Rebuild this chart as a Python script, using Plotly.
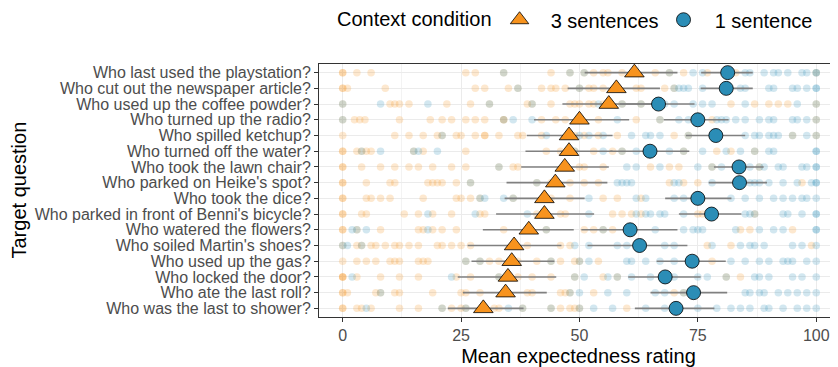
import plotly.graph_objects as go

questions = [
    "Who last used the playstation?",
    "Who cut out the newspaper article?",
    "Who used up the coffee powder?",
    "Who turned up the radio?",
    "Who spilled ketchup?",
    "Who turned off the water?",
    "Who took the lawn chair?",
    "Who parked on Heike's spot?",
    "Who took the dice?",
    "Who parked in front of Benni's bicycle?",
    "Who watered the flowers?",
    "Who soiled Martin's shoes?",
    "Who used up the gas?",
    "Who locked the door?",
    "Who ate the last roll?",
    "Who was the last to shower?",
]

# condition means and interval bounds (3 sentences)
mean_3 = [61.6, 57.8, 56.2, 50.0, 47.8, 47.8, 46.9, 44.9, 42.6, 42.6, 39.3, 36.2, 35.7, 34.9, 34.4, 29.7]
lo_3 = [51.1, 47.5, 46.4, 40.4, 38.9, 38.6, 37.7, 34.6, 34.2, 32.4, 29.6, 26.4, 27.2, 24.3, 25.4, 22.2]
hi_3 = [70.7, 67.0, 66.0, 60.5, 57.0, 57.0, 56.2, 55.9, 51.1, 53.1, 48.8, 46.2, 44.7, 45.1, 43.1, 38.2]

# condition means and interval bounds (1 sentence)
mean_1 = [81.3, 81.0, 66.7, 75.0, 78.8, 64.9, 83.7, 83.8, 75.0, 77.9, 60.7, 62.7, 73.8, 68.1, 74.1, 70.4]
lo_1 = [75.7, 75.6, 58.5, 67.8, 72.5, 56.5, 78.4, 77.3, 68.1, 71.0, 50.4, 51.7, 66.3, 60.3, 65.0, 61.7]
hi_1 = [86.6, 86.6, 74.3, 81.5, 85.0, 73.2, 88.9, 89.6, 82.1, 84.2, 70.7, 72.8, 80.9, 75.6, 81.2, 78.5]

# individual ratings, 3 sentences
dots_3 = [
    [0, 0, 3, 6, 26, 28, 34, 44, 48, 51, 53, 55, 56, 59, 66, 69, 72, 77, 83, 100],
    [0, 0, 1, 9, 28, 30, 35, 37, 42, 44, 45, 47, 50, 52, 53, 55, 62, 63, 68, 70],
    [0, 10, 11, 12, 14, 22, 27, 31, 39, 40, 44, 48, 49, 50, 52, 53, 55, 59, 63, 82, 87, 90, 92, 94, 100],
    [0, 2.5, 3.6, 4.7, 12, 18.5, 21, 23, 26, 28, 30, 34, 34, 42, 45, 47, 50, 54, 62, 67, 78, 100],
    [0, 11, 14, 17, 20, 21, 24, 25, 28, 30, 30, 33, 37, 38, 42, 49, 51, 54, 58, 70, 73, 95, 100],
    [0, 0, 3, 4, 5, 6, 15, 17, 26, 43, 46, 49, 53, 57, 59, 72, 79, 82, 87],
    [0, 0, 4, 8, 11, 14, 16, 19, 23, 26, 33, 36, 37, 50, 51, 55, 65, 69, 71, 78, 88],
    [0, 0, 5, 10, 11, 18, 19, 20, 21, 24, 27, 41, 44, 48, 51, 54, 69, 72, 75, 97],
    [0, 0, 5, 6, 8, 10, 17, 24, 25, 27, 29, 36, 44, 48, 55, 58, 63, 75],
    [0, 0, 4, 5, 13, 16, 19, 23, 29, 30, 41, 46, 47, 57, 59, 61, 63, 75, 76, 87],
    [0, 0, 3, 8, 16, 17, 19, 21, 24, 34, 39, 43, 51, 53, 55, 57, 84, 86, 95],
    [0, 3, 4, 6, 7, 9, 11, 12, 14, 16, 20, 21, 23, 25, 27, 36, 39, 46, 48, 77, 82, 99],
    [0, 3, 5, 7, 10, 11, 12, 16, 17, 18, 26, 29, 31, 33, 37, 41, 44, 46, 49, 50, 54, 78],
    [0, 0, 0, 3, 8, 12, 16, 24, 27, 33, 37, 40, 44, 49, 55, 58, 81, 84],
    [0, 0, 1, 7, 8, 11, 12, 19, 25, 26, 29, 39, 40, 46, 47, 48, 53, 70, 72],
    [0, 0, 3, 4, 6, 12, 16, 21, 23, 25, 26, 30, 32, 33, 38, 44, 46, 48, 49, 50, 60],
]

# individual ratings, 1 sentence
dots_1 = [
    [34, 48, 51, 69, 74, 76, 85, 86, 89, 91, 92, 94, 97, 98, 100, 100],
    [37, 50, 70, 71, 72, 73, 76, 84, 85, 90, 91, 95, 96, 98, 100, 100],
    [0, 8, 18, 31, 40, 54, 59, 63, 68, 70, 74, 76, 78, 85, 96, 100],
    [0, 34, 36, 40, 58, 67, 71, 73, 79, 80, 81, 83, 85, 88, 90, 91, 95, 96, 98, 100],
    [21, 43, 50, 52, 55, 61, 64, 65, 67, 73, 85, 87, 88, 90, 91, 92, 95, 98, 100],
    [4, 8, 15, 16, 20, 49, 55, 59, 62, 69, 72, 76, 81, 84, 87, 90, 91, 100, 100],
    [33, 60, 62, 67, 75, 78, 80, 84, 86, 88, 89, 92, 93, 97, 98, 100, 100],
    [27, 41, 58, 59, 60, 61, 70, 71, 78, 84, 86, 87, 88, 90, 93, 96, 99, 100, 100],
    [29, 30, 34, 36, 52, 62, 64, 70, 72, 82, 85, 88, 91, 93, 95, 97, 98, 100],
    [18, 28, 39, 52, 62, 64, 65, 67, 68, 72, 85, 86, 87, 93, 94, 97, 100, 100],
    [2, 3, 5, 18, 43, 55, 60, 66, 72, 74, 75, 76, 83, 88, 91, 93, 100, 100],
    [0, 1, 4, 49, 52, 58, 60, 68, 70, 78, 84, 86, 87, 89, 95, 97, 100],
    [26, 29, 44, 50, 52, 60, 61, 64, 67, 70, 82, 85, 88, 90, 93, 94, 95, 98, 100],
    [2, 23, 33, 49, 51, 56, 58, 61, 65, 70, 75, 77, 81, 87, 88, 90, 95, 97, 100],
    [8, 48, 50, 56, 60, 66, 68, 72, 85, 86, 88, 89, 92, 94, 96, 98, 100],
    [5, 21, 26, 35, 38, 44, 50, 53, 57, 64, 68, 70, 75, 79, 82, 84, 86, 89, 90, 93, 96, 98, 100],
]

x_ticks = [0, 25, 50, 75, 100]

ORANGE = "#F7931E"
BLUE = "#2B8DB6"
FONT = "Liberation Sans, Arial, sans-serif"
NB = "&nbsp;"

# the page body adds an 8 px offset, so the figure is drawn 8 px smaller
W, H = 830, 359
L, T, B, R = 311, 56, 50, 0
PW = W - L - R

fig = go.Figure()

for dots, col in [(dots_3, ORANGE), (dots_1, BLUE)]:
    xs, ys = [], []
    for q, vals in zip(questions, dots):
        xs.extend(vals)
        ys.extend([q] * len(vals))
    fig.add_trace(go.Scatter(
        x=xs, y=ys, mode="markers", showlegend=False, hoverinfo="skip",
        marker=dict(color=col, size=7.5, opacity=0.21, line=dict(width=0)),
    ))

# interval segments
for lo, hi in [(lo_3, hi_3), (lo_1, hi_1)]:
    xs, ys = [], []
    for q, a, b in zip(questions, lo, hi):
        xs += [a, b, None]
        ys += [q, q, None]
    fig.add_trace(go.Scatter(
        x=xs, y=ys, mode="lines", showlegend=False, hoverinfo="skip",
        line=dict(color="#808080", width=1.6),
    ))

fig.add_trace(go.Scatter(
    x=mean_3, y=questions, mode="markers", name=NB * 2 + "3 sentences",
    marker=dict(symbol="triangle-up", color=ORANGE, size=17,
                line=dict(color="black", width=0.8)),
))
fig.add_trace(go.Scatter(
    x=mean_1, y=questions, mode="markers", name=NB * 2 + "1 sentence",
    marker=dict(symbol="circle", color=BLUE, size=14,
                line=dict(color="black", width=0.8)),
))

fig.update_layout(
    width=W, height=H,
    margin=dict(l=L, r=R, t=T, b=B, autoexpand=False),
    paper_bgcolor="white", plot_bgcolor="white",
    font=dict(family=FONT, color="black"),
    legend=dict(
        orientation="h", x=16 / PW, xanchor="left", y=1.175, yanchor="middle",
        title=dict(text="Context condition",
                   font=dict(size=20, family=FONT, color="black")),
        font=dict(size=20, family=FONT, color="black"),
        bgcolor="rgba(0,0,0,0)", itemsizing="trace",
    ),
    xaxis=dict(
        range=[-5.0, 104.6], tickvals=x_ticks, ticktext=[str(t) for t in x_ticks],
        showgrid=True, gridcolor="#EBEBEB", gridwidth=1.1,
        minor=dict(dtick=12.5, showgrid=True, gridcolor="#F3F3F3", gridwidth=0.6),
        zeroline=False, showline=True, linecolor="#333333", linewidth=1, mirror=True,
        ticks="outside", ticklen=4, tickcolor="#333333", tickwidth=1,
        tickfont=dict(size=16, color="#4D4D4D", family=FONT),
        title=dict(text="Mean expectedness rating", font=dict(size=20, family=FONT, color="black"), standoff=6),
        automargin=False,
    ),
    yaxis=dict(
        type="category", categoryorder="array", categoryarray=questions[::-1],
        tickmode="array", tickvals=questions, ticktext=questions,
        range=[-0.55, 15.55],
        showgrid=True, gridcolor="#EBEBEB", gridwidth=1.1,
        zeroline=False, showline=True, linecolor="#333333", linewidth=1, mirror=True,
        ticks="outside", ticklen=4, tickcolor="#333333", tickwidth=1,
        tickfont=dict(size=16, color="#4D4D4D", family=FONT),
        automargin=False,
    ),
    annotations=[dict(
        text="Target question", textangle=-90, xref="paper", yref="paper",
        x=(10 - L) / PW, y=0.5, xanchor="center", yanchor="middle",
        showarrow=False, font=dict(size=20, family=FONT, color="black"),
    )],
)

fig.write_html("out.html")
